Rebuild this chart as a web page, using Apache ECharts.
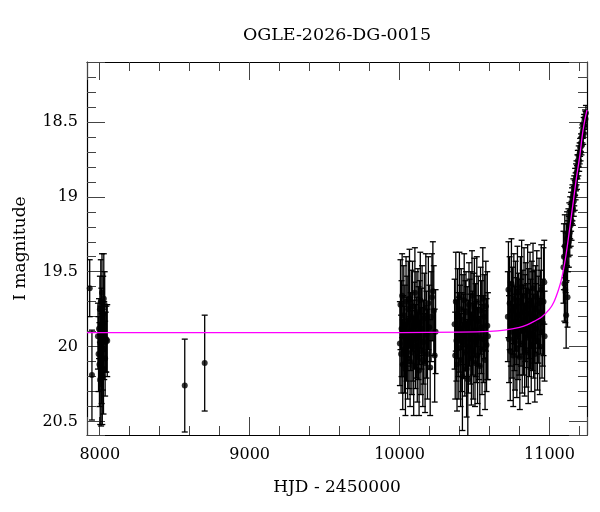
<!DOCTYPE html>
<html>
<head>
<meta charset="utf-8">
<script src="https://cdn.jsdelivr.net/npm/echarts@6/dist/echarts.min.js"></script>
<style>
  html, body { margin: 0; padding: 0; background: #fff; }
  #chart { width: 600px; height: 512px; }
</style>
</head>
<body>
<div id="chart"></div>
<script>
// photometry (HJD - 2450000, I mag, 1-sigma error)
var obsHjd = [
  // 2017/18
  7933, 7948, 7988, 7992, 7995, 7998, 8001, 8003, 8005, 8007, 8009, 8011, 8013,
  8015, 8017, 8019, 8021, 8023, 8025, 8027, 8030, 8033, 8036, 8040, 8044, 8050,
  // 2019
  8567, 8700,
  // 2023
  10002, 10006, 10010, 10013, 10017, 10021, 10024, 10028, 10032, 10035, 10039,
  10043, 10047, 10050, 10054, 10058, 10062, 10066, 10070, 10074, 10078, 10082,
  10086, 10090, 10094, 10098, 10102, 10106, 10110, 10114, 10118, 10122, 10126,
  10130, 10134, 10138, 10142, 10146, 10150, 10155, 10160, 10165, 10170, 10175,
  10180, 10186, 10192, 10198, 10204, 10210, 10216, 10222, 10228, 10234, 10240,
  // 2024
  10367, 10371, 10375, 10379, 10383, 10387, 10391, 10395, 10399, 10403, 10407,
  10411, 10415, 10419, 10423, 10427, 10431, 10435, 10439, 10443, 10447, 10451,
  10455, 10459, 10463, 10467, 10471, 10475, 10479, 10483, 10487, 10491, 10495,
  10499, 10503, 10507, 10511, 10515, 10520, 10525, 10530, 10535, 10540, 10545,
  10550, 10555, 10560, 10565, 10570, 10575, 10580, 10585, 10589,
  // 2025
  10722, 10726, 10730, 10734, 10738, 10742, 10746, 10750, 10754, 10758, 10762,
  10766, 10770, 10774, 10778, 10782, 10786, 10790, 10794, 10798, 10802, 10806,
  10810, 10814, 10818, 10822, 10826, 10830, 10834, 10838, 10842, 10846, 10850,
  10854, 10858, 10862, 10866, 10870, 10874, 10878, 10882, 10886, 10890, 10894,
  10898, 10902, 10906, 10910, 10915, 10920, 10925, 10930, 10935, 10940, 10945,
  10950, 10955, 10960, 10965, 10967,
  // 2026 rise
  11093, 11096, 11099, 11102, 11105, 11108, 11111, 11114, 11117, 11120, 11123,
  11126, 11129, 11132, 11135, 11138, 11141, 11144, 11147, 11150, 11153, 11156,
  11159, 11162, 11165, 11168, 11171, 11174, 11177, 11180, 11183, 11186, 11189,
  11192, 11195, 11198, 11201, 11204, 11207, 11210, 11213, 11216, 11219, 11222,
  11225, 11228, 11231, 11234, 11237, 11240, 11243
];
var obsMag = [
  19.61, 20.19, 19.93, 20.05, 19.88, 20.12, 19.75, 20.22, 19.98, 19.70, 20.25, 19.85, 20.08,
  19.64, 20.20, 19.92, 20.02, 19.78, 20.15, 19.68, 19.96, 19.72, 20.08, 19.97, 19.95, 19.96,
  20.26, 20.11,
  19.98, 19.72, 20.05, 19.88, 19.66, 20.12, 19.93, 19.79, 20.02, 19.85, 20.15,
  19.70, 19.95, 19.83, 20.08, 19.75, 19.99, 19.68, 20.10, 19.90, 19.80, 20.04,
  19.73, 19.96, 20.13, 19.86, 19.64, 20.00, 19.82, 19.94, 20.07, 19.77, 19.91,
  20.16, 19.84, 19.69, 20.03, 19.88, 19.76, 20.09, 19.97, 19.81, 20.11, 19.74,
  19.92, 20.05, 19.71, 19.87, 20.14, 19.80, 19.67, 19.63, 19.76, 20.06, 19.90,
  19.85, 20.06, 19.70, 19.96, 20.12, 19.78, 19.92, 20.01, 19.67, 19.88, 20.09,
  19.75, 19.97, 20.20, 19.82, 19.93, 19.69, 20.04, 19.86, 19.77, 20.15, 19.90,
  20.22, 20.00, 19.72, 19.84, 19.95, 19.79, 20.08, 19.66, 19.91, 20.03, 19.81,
  19.74, 20.11, 19.89, 19.97, 19.70, 20.06, 19.83, 19.94, 20.13, 19.76, 19.87,
  20.02, 19.68, 19.95, 19.80, 20.09, 19.73, 19.99, 19.86, 19.93,
  19.80, 19.62, 19.95, 19.71, 20.03, 19.85, 19.58, 19.90, 19.76, 20.06, 19.68,
  19.88, 19.97, 19.73, 19.83, 20.01, 19.64, 19.92, 19.79, 19.87, 20.07, 19.70,
  19.84, 19.60, 19.98, 19.77, 19.89, 19.66, 20.02, 19.81, 19.74, 19.94, 19.86,
  19.63, 20.04, 19.78, 19.91, 19.69, 19.85, 19.99, 19.72, 19.83, 19.61, 19.93,
  19.80, 20.05, 19.75, 19.88, 19.67, 19.96, 19.82, 19.71, 20.00, 19.77, 19.62,
  19.90, 19.84, 19.70, 19.57, 19.93,
  19.47, 19.40, 19.58, 19.33, 19.62, 19.44, 19.79, 19.37, 19.28, 19.67, 19.33,
  19.24, 19.30, 19.19, 19.24, 19.14, 19.19, 19.10, 19.16, 19.06, 19.04, 19.08,
  18.99, 19.03, 18.96, 18.99, 18.90, 18.93, 18.87, 18.84, 18.87, 18.80, 18.76,
  18.79, 18.73, 18.76, 18.71, 18.67, 18.70, 18.64, 18.66, 18.60, 18.58, 18.56,
  18.59, 18.52, 18.50, 18.53, 18.47, 18.48, 18.44
];
var obsErr = [
  0.19, 0.30, 0.22, 0.25, 0.20, 0.28, 0.22, 0.30, 0.25, 0.28, 0.28, 0.24, 0.30,
  0.26, 0.32, 0.22, 0.27, 0.25, 0.30, 0.30, 0.26, 0.22, 0.25, 0.20, 0.22, 0.24,
  0.31, 0.32,
  0.28, 0.30, 0.26, 0.32, 0.28, 0.30, 0.27, 0.33, 0.29, 0.26, 0.31,
  0.30, 0.28, 0.30, 0.27, 0.32, 0.29, 0.33, 0.30, 0.26, 0.31, 0.28,
  0.30, 0.27, 0.33, 0.29, 0.30, 0.28, 0.32, 0.27, 0.30, 0.29, 0.31,
  0.30, 0.28, 0.32, 0.29, 0.27, 0.30, 0.31, 0.28, 0.30, 0.33, 0.36,
  0.29, 0.30, 0.31, 0.28, 0.32, 0.30, 0.29, 0.33, 0.30, 0.31, 0.28,
  0.30, 0.29, 0.33, 0.27, 0.31, 0.30, 0.28, 0.34, 0.30, 0.29, 0.31,
  0.27, 0.33, 0.36, 0.30, 0.28, 0.31, 0.29, 0.30, 0.27, 0.32, 0.30,
  0.40, 0.31, 0.28, 0.29, 0.30, 0.29, 0.31, 0.30, 0.28, 0.32, 0.30,
  0.33, 0.29, 0.31, 0.27, 0.30, 0.32, 0.30, 0.28, 0.33, 0.29, 0.31,
  0.30, 0.34, 0.29, 0.28, 0.33, 0.30, 0.31, 0.36, 0.29,
  0.30, 0.32, 0.29, 0.31, 0.33, 0.28, 0.30, 0.31, 0.29, 0.34, 0.30,
  0.28, 0.32, 0.30, 0.29, 0.33, 0.31, 0.30, 0.28, 0.32, 0.35, 0.30,
  0.29, 0.31, 0.33, 0.28, 0.30, 0.32, 0.31, 0.29, 0.30, 0.33, 0.28,
  0.31, 0.34, 0.30, 0.29, 0.32, 0.30, 0.31, 0.29, 0.33, 0.30, 0.28,
  0.31, 0.32, 0.29, 0.30, 0.31, 0.33, 0.29, 0.30, 0.32, 0.28, 0.30,
  0.31, 0.29, 0.36, 0.28, 0.30,
  0.24, 0.22, 0.25, 0.21, 0.22, 0.20, 0.22, 0.19, 0.18, 0.20, 0.17,
  0.16, 0.17, 0.15, 0.15, 0.14, 0.14, 0.13, 0.13, 0.12, 0.12, 0.11,
  0.11, 0.10, 0.10, 0.10, 0.09, 0.09, 0.09, 0.08, 0.08, 0.08, 0.07,
  0.07, 0.07, 0.07, 0.07, 0.06, 0.06, 0.06, 0.06, 0.06, 0.06, 0.05,
  0.06, 0.05, 0.05, 0.05, 0.05, 0.05, 0.05
];

// model light curve (magenta)
var modelHjd = [7915, 9000, 10000, 10400, 10600, 10700, 10800, 10850, 10900, 10950,
  11000, 11030, 11060, 11080, 11100, 11120, 11140, 11160, 11180, 11200, 11220, 11235, 11250];
var modelMag = [19.907, 19.907, 19.906, 19.903, 19.898, 19.89, 19.872, 19.855, 19.83, 19.80,
  19.75, 19.70, 19.62, 19.55, 19.45, 19.32, 19.17, 19.02, 18.87, 18.74, 18.58, 18.49, 18.42];

var titleText = 'OGLE-2026-DG-0015';
var xName = 'HJD - 2450000';
var yName = 'I magnitude';

var X_MIN = 7915, X_MAX = 11250;
var Y_MIN = 18.1, Y_MAX = 20.59;
var FONT = '"DejaVu Serif", "Liberation Serif", serif';

var points = obsHjd.map(function (t, i) { return [t, obsMag[i]]; });
var bars = obsHjd.map(function (t, i) { return [t, obsMag[i] - obsErr[i], obsMag[i] + obsErr[i]]; });
var model = modelHjd.map(function (t, i) { return [t, modelMag[i]]; });

function xAx(pos, split, len, labels) {
  return {
    type: 'value', position: pos, min: X_MIN, max: X_MAX, splitNumber: split,
    axisLine: { show: len > 10, lineStyle: { color: '#000', width: 1.2 } },
    axisTick: { show: true, inside: true, length: len, lineStyle: { color: '#444', width: 1 } },
    axisLabel: labels ? {
      show: true, margin: 12, color: '#000', fontSize: 16, fontFamily: FONT,
      formatter: function (v) { return Math.abs(v / 1000 - Math.round(v / 1000)) < 1e-6 ? String(v) : ''; }
    } : { show: false },
    splitLine: { show: false }
  };
}
function yAx(pos, split, len, labels) {
  return {
    type: 'value', position: pos, min: Y_MIN, max: Y_MAX, inverse: true, splitNumber: split,
    axisLine: { show: len > 10, lineStyle: { color: '#000', width: 1.2 } },
    axisTick: { show: true, inside: true, length: len, lineStyle: { color: '#444', width: 1 } },
    axisLabel: labels ? {
      show: true, margin: 9, color: '#000', fontSize: 16, fontFamily: FONT,
      formatter: function (v) {
        if (Math.abs(v * 2 - Math.round(v * 2)) > 1e-6) return '';
        return Math.abs(v - Math.round(v)) < 1e-6 ? String(Math.round(v)) : v.toFixed(1);
      }
    } : { show: false },
    splitLine: { show: false }
  };
}

var xMain = xAx('bottom', 3, 18, true);
xMain.name = xName;
xMain.nameLocation = 'middle';
xMain.nameGap = 44;
xMain.nameTextStyle = { color: '#000', fontSize: 17, fontFamily: FONT };
var yMain = yAx('left', 5, 18, true);
yMain.name = yName;
yMain.nameLocation = 'middle';
yMain.nameGap = 58;
yMain.nameRotate = 90;
yMain.nameTextStyle = { color: '#000', fontSize: 17, fontFamily: FONT };

var chart = echarts.init(document.getElementById('chart'), null, { renderer: 'canvas' });
chart.setOption({
  animation: false,
  backgroundColor: '#fff',
  grid: { left: 87, right: 13, top: 62, bottom: 77 },
  graphic: [{
    type: 'text', x: 337, y: 35,
    style: { text: titleText, font: '17.5px ' + FONT, fill: '#000', align: 'center', verticalAlign: 'middle' }
  }],
  xAxis: [xMain, xAx('bottom', 17, 9, false), xAx('top', 3, 18, false), xAx('top', 17, 9, false)],
  yAxis: [yMain, yAx('left', 25, 9, false), yAx('right', 5, 18, false), yAx('right', 25, 9, false)],
  series: [
    {
      type: 'custom', xAxisIndex: 0, yAxisIndex: 0, clip: true, z: 2,
      data: bars,
      renderItem: function (params, api) {
        var top = api.coord([api.value(0), api.value(1)]);
        var bot = api.coord([api.value(0), api.value(2)]);
        var st = { stroke: '#000', lineWidth: 1.3 };
        return {
          type: 'group',
          children: [
            { type: 'line', shape: { x1: top[0], y1: top[1], x2: bot[0], y2: bot[1] }, style: st },
            { type: 'line', shape: { x1: top[0] - 3, y1: top[1], x2: top[0] + 3, y2: top[1] }, style: st },
            { type: 'line', shape: { x1: bot[0] - 3, y1: bot[1], x2: bot[0] + 3, y2: bot[1] }, style: st }
          ]
        };
      }
    },
    {
      type: 'scatter', xAxisIndex: 0, yAxisIndex: 0, z: 3,
      symbol: 'circle', symbolSize: 6,
      itemStyle: { color: '#000' },
      data: points
    },
    {
      type: 'line', xAxisIndex: 0, yAxisIndex: 0, z: 4,
      showSymbol: false, smooth: 0.3,
      lineStyle: { color: '#ff00ff', width: 1.3 },
      data: model
    }
  ]
});
</script>
</body>
</html>
